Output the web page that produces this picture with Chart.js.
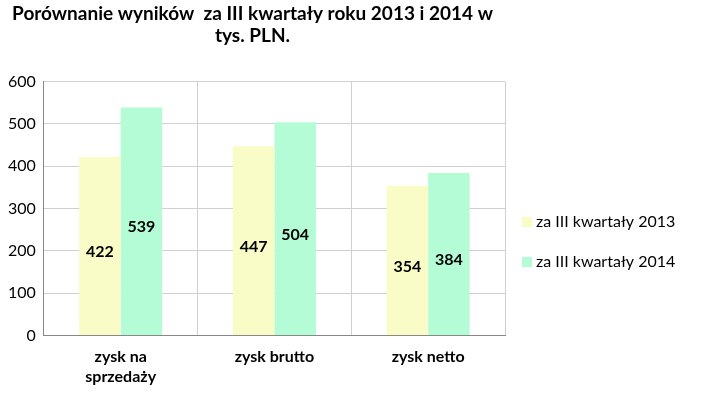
<!DOCTYPE html>
<html>
<head>
<meta charset="utf-8">
<script src="https://cdn.jsdelivr.net/npm/chart.js@4"></script>
<style>
  body { margin: 0; background: #fff; }
  #wrap { width: 710px; height: 402px; }
</style>
</head>
<body>
<div id="wrap"><canvas id="chart"></canvas></div>
<script>
const categories = [["zysk na", "sprzedaży"], "zysk brutto", "zysk netto"];
const values2013 = [422, 447, 354];
const values2014 = [539, 504, 384];
const seriesNames = ["za III kwartały 2013", "za III kwartały 2014"];

// etykiety wartości w środku słupka
const barLabels = {
    id: "barLabels",
    afterDatasetsDraw(chart) {
        const ctx = chart.ctx;
        ctx.save();
        ctx.font = "bold 16px Lato";
        ctx.fillStyle = "#000";
        ctx.textAlign = "center";
        ctx.textBaseline = "middle";
        chart.data.datasets.forEach((ds, i) => {
            chart.getDatasetMeta(i).data.forEach((bar, j) => {
                const mid = (bar.y + bar.base) / 2;
                ctx.fillText(ds.data[j], bar.x, mid + 6);
            });
        });
        ctx.restore();
    }
};

// legenda po prawej, rysowana ręcznie
const sideLegend = {
    id: "sideLegend",
    afterDraw(chart) {
        const ctx = chart.ctx;
        const x = chart.chartArea.right + 17;
        ctx.save();
        ctx.font = "16px Lato";
        ctx.fillStyle = "#000";
        ctx.textBaseline = "middle";
        chart.data.datasets.forEach((ds, i) => {
            const y = 222 + i * 40;
            ctx.fillStyle = ds.backgroundColor;
            ctx.fillRect(x, y - 5, 10, 10);
            ctx.fillStyle = "#000";
            ctx.fillText(ds.label, x + 14, y);
        });
        ctx.restore();
    }
};

new Chart(document.getElementById("chart"), {
    type: "bar",
    data: {
        labels: categories,
        datasets: [
            { label: seriesNames[0], data: values2013, backgroundColor: "#f9fcc6" },
            { label: seriesNames[1], data: values2014, backgroundColor: "#b4fcd6" }
        ]
    },
    plugins: [barLabels, sideLegend],
    options: {
        responsive: true,
        maintainAspectRatio: false,
        animation: false,
        layout: { padding: { left: 0, right: 205, top: 0, bottom: 4 } },
        datasets: { bar: { categoryPercentage: 0.54, barPercentage: 1 } },
        plugins: {
            title: {
                display: true,
                text: ["Porównanie wyników  za III kwartały roku 2013 i 2014 w", "tys. PLN."],
                font: { family: "Lato", size: 19, weight: "bold" },
                color: "#000",
                padding: { top: 2, bottom: 34 },
                lineHeight: 1.35
            },
            legend: { display: false },
            tooltip: { enabled: false }
        },
        scales: {
            x: {
                grid: { color: "#d0d0d0", drawTicks: false },
                border: { color: "#888" },
                ticks: { font: { family: "Lato", size: 16, weight: "bold" }, color: "#000", padding: 12 }
            },
            y: {
                min: 0, max: 600,
                grid: { color: "#d0d0d0", drawTicks: false },
                border: { color: "#888" },
                ticks: { stepSize: 100, font: { family: "Lato", size: 16 }, color: "#000", padding: 8 }
            }
        }
    }
});
</script>
</body>
</html>
